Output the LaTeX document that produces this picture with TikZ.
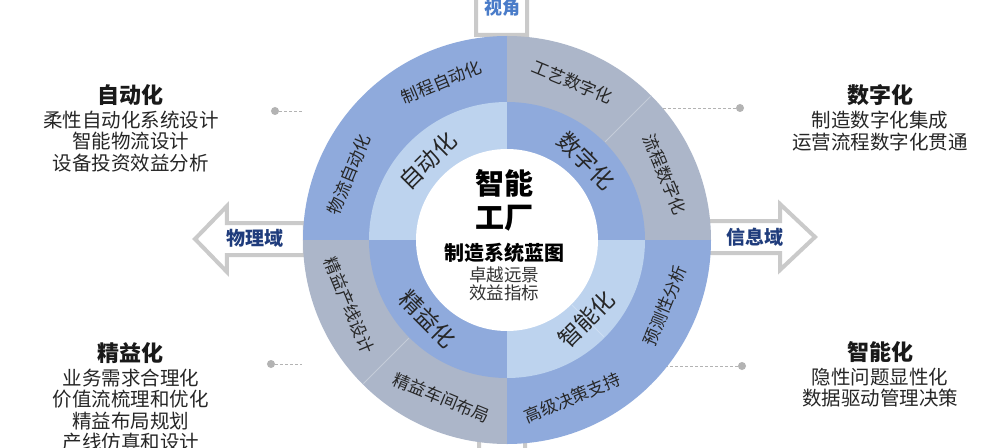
\documentclass[tikz,border=0pt]{standalone}
\usepackage{fontspec}
\setmainfont{Noto Sans CJK SC}
\usetikzlibrary{positioning}
\definecolor{ringblue}{HTML}{8FAADC}
\definecolor{ringgray}{HTML}{ACB6C9}
\definecolor{ringlight}{HTML}{BDD3EE}
\definecolor{domaincol}{HTML}{1F3C7C}
\definecolor{viewcol}{HTML}{4A7CC9}
\definecolor{arrowline}{HTML}{CACACA}
\definecolor{linkcol}{HTML}{B3B3B3}

\begin{document}
\begin{tikzpicture}[
    x=1pt, y=1pt,
    every node/.style={inner sep=0pt},
    outerlbl/.style={font=\fontsize{17}{17}\selectfont, text=black!85},
    midlbl/.style={font=\fontsize{23}{23}\selectfont, text=black!85},
    headtxt/.style={font=\fontsize{22}{22}\selectfont\bfseries, text=black!90},
    bodytxt/.style={font=\fontsize{19.5}{21.5}\selectfont, align=center, text=black!85},
    domlbl/.style={font=\fontsize{19}{19}\selectfont\bfseries, text=domaincol},
    blockarr/.style={draw=arrowline, line width=4pt, fill=white, line join=miter},
    dotmark/.style={circle, fill=linkcol, minimum size=8pt},
    dashlink/.style={draw=linkcol, dash pattern=on 3pt off 2pt, line width=0.9pt},
]
\clip (-507,-207) rectangle (493,240);
\fill[white] (-507,-207) rectangle (493,240);

% Domain arrows (behind the wheel)
\draw[blockarr] (-202,17) -- (-280,17) -- (-280,34) -- (-312,1) -- (-280,-32)
    -- (-280,-15) -- (-202,-15) -- cycle;
\draw[blockarr] (195,19) -- (273,19) -- (273,36) -- (308,3) -- (273,-30)
    -- (273,-13) -- (195,-13) -- cycle;
\draw[blockarr] (-31,205) -- (-31,250) -- (-55,250) -- (-5,290) -- (45,250)
    -- (20,250) -- (20,205) -- cycle;
\draw[blockarr] (-28,-199) -- (-28,-240) -- (-52,-240) -- (-5,-280) -- (42,-240)
    -- (18,-240) -- (18,-199) -- cycle;

% Outer ring quadrants
\fill[ringblue] (0,0) -- (90:204pt) arc[start angle=90, end angle=180, radius=204pt] -- cycle;
\fill[ringgray] (0,0) -- (0:204pt) arc[start angle=0, end angle=90, radius=204pt] -- cycle;
\fill[ringgray] (0,0) -- (180:204pt) arc[start angle=180, end angle=270, radius=204pt] -- cycle;
\fill[ringblue] (0,0) -- (270:204pt) arc[start angle=270, end angle=360, radius=204pt] -- cycle;
\draw[white, opacity=0.3, line width=1pt] (45:139pt) -- (45:203pt);
\draw[white, opacity=0.3, line width=1pt] (225:139pt) -- (225:203pt);

% Middle ring quadrants
\fill[ringlight] (0,0) -- (90:138pt) arc[start angle=90, end angle=180, radius=138pt] -- cycle;
\fill[ringblue] (0,0) -- (0:138pt) arc[start angle=0, end angle=90, radius=138pt] -- cycle;
\fill[ringblue] (0,0) -- (180:138pt) arc[start angle=180, end angle=270, radius=138pt] -- cycle;
\fill[ringlight] (0,0) -- (270:138pt) arc[start angle=270, end angle=360, radius=138pt] -- cycle;
\draw[white, opacity=0.25, line width=1pt] (315:92pt) -- (315:137pt);

% Inner disc
\fill[white] (0,0) circle[radius=91pt];

% Outer ring labels
\node[outerlbl, rotate=22.5] (procauto) at (112.5:171pt) {制程自动化};
\node[outerlbl, rotate=67.5] (logauto) at (157.5:171pt) {物流自动化};
\node[outerlbl, rotate=-22.5] (craftdig) at (67.5:171pt) {工艺数字化};
\node[outerlbl, rotate=-67.5] (flowdig) at (22.5:171pt) {流程数字化};
\node[outerlbl, rotate=-67.5] (leanline) at (202.5:171pt) {精益产线设计};
\node[outerlbl, rotate=-22.5] (leanshop) at (247.5:171pt) {精益车间布局};
\node[outerlbl, rotate=22.5] (decision) at (292.5:171pt) {高级决策支持};
\node[outerlbl, rotate=67.5] (predict) at (337.5:171pt) {预测性分析};

% Middle ring labels
\node[midlbl, rotate=45] (automid) at (135:112pt) {自动化};
\node[midlbl, rotate=-45] (digimid) at (45:112pt) {数字化};
\node[midlbl, rotate=-45] (leanmid) at (225:112pt) {精益化};
\node[midlbl, rotate=45] (smartmid) at (315:112pt) {智能化};

% Centre
\node[font=\fontsize{29}{34}\selectfont\bfseries, align=center] (factory) at (-3,40) {智能\\工厂};
\node[font=\fontsize{20}{20}\selectfont\bfseries] (blueprint) at (-3,-13) {制造系统蓝图};
\node[font=\fontsize{17.5}{18}\selectfont, align=center, text=black!80] (vision) at (-3,-44)
    {卓越远景\\效益指标};

% Domain labels
\node[domlbl] (physdom) at (-252,2) {物理域};
\node[domlbl] (infodom) at (248,3) {信息域};
\node[domlbl, text=viewcol, font=\fontsize{18}{18}\selectfont\bfseries] (view) at (-5,232) {视角};

% Side descriptions
\node[headtxt] (autohead) at (-376,145) {自动化};
\node[bodytxt, below=5pt of autohead] (autobody) {柔性自动化系统设计\\智能物流设计\\设备投资效益分析};
\node[headtxt] (digihead) at (373,145) {数字化};
\node[bodytxt, below=5pt of digihead] (digibody) {制造数字化集成\\运营流程数字化贯通};
\node[headtxt] (leanhead) at (-376,-113) {精益化};
\node[bodytxt, below=5pt of leanhead] (leanbody) {业务需求合理化\\价值流梳理和优化\\精益布局规划\\产线仿真和设计};
\node[headtxt] (smarthead) at (373,-112) {智能化};
\node[bodytxt, below=5pt of smarthead] (smartbody) {隐性问题显性化\\数据驱动管理决策};

% Leader lines
\node[dotmark] (autodot) at (-232,129) {};
\coordinate (autoend) at (-204,129);
\draw[dashlink] (autodot) -- (autoend);
\node[dotmark] (digidot) at (233,132) {};
\coordinate (digiend) at (156,132);
\draw[dashlink] (digidot) -- (digiend);
\node[dotmark] (leandot) at (-236,-124) {};
\coordinate (leanend) at (-205,-124);
\draw[dashlink] (leandot) -- (leanend);
\node[dotmark] (smartdot) at (235,-126) {};
\coordinate (smartend) at (160,-126);
\draw[dashlink] (smartdot) -- (smartend);

\end{tikzpicture}
\end{document}
